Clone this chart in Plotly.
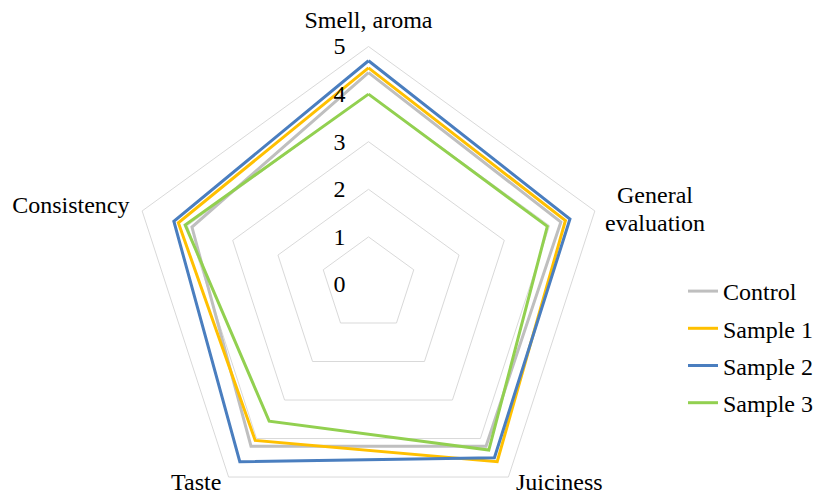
import plotly.graph_objects as go

categories = ["Smell, aroma", "General evaluation", "Juiciness", "Taste", "Consistency"]
axis_labels = ["Smell, aroma", "", "", "", "Consistency"]
side_labels = ["General", "evaluation", "Taste", "Juiciness"]
series_names = ["Control", "Sample 1", "Sample 2", "Sample 3"]
control = [4.45, 4.25, 4.2, 4.2, 3.9]
sample1 = [4.55, 4.35, 4.6, 4.05, 4.2]
sample2 = [4.7, 4.45, 4.5, 4.6, 4.3]
sample3 = [4.0, 3.95, 4.3, 3.55, 4.05]
radial_ticks = [0, 1, 2, 3, 4, 5]

series_values = [control, sample1, sample2, sample3]
colors = ["#BFBFBF", "#FFC000", "#4A7EBF", "#92D050"]

FONT = "Liberation Serif, Times New Roman, serif"
TXT = dict(family=FONT, size=24, color="black")

fig = go.Figure()
for name, vals, col in zip(series_names, series_values, colors):
    fig.add_trace(go.Scatterpolar(
        r=vals + vals[:1],
        theta=categories + categories[:1],
        mode="lines",
        name=name,
        legendgroup=name,
        line=dict(color=col, width=3),
    ))

W, H = 850, 515
cx, cy, R = 360.5, 276.5, 238


def label(text, x, y, xanchor):
    return dict(text=text, xref="paper", yref="paper", x=x / W, y=(H - y) / H,
                xanchor=xanchor, yanchor="middle", showarrow=False, font=TXT)


fig.update_layout(
    width=W, height=H,
    margin=dict(l=0, r=0, t=0, b=0),
    paper_bgcolor="white",
    plot_bgcolor="white",
    font=TXT,
    polar=dict(
        domain=dict(x=[(cx - R) / W, (cx + R) / W], y=[(H - cy - R) / H, (H - cy + R) / H]),
        gridshape="linear",
        bgcolor="white",
        radialaxis=dict(
            range=[0, 5], tickvals=radial_ticks, ticktext=[str(t) for t in radial_ticks],
            angle=90, tickangle=90, side="counterclockwise",
            showline=False, gridcolor="#D9D9D9", gridwidth=1,
            ticks="outside", ticklen=14, tickcolor="rgba(0,0,0,0)",
            tickfont=TXT,
        ),
        angularaxis=dict(
            direction="clockwise", rotation=90,
            tickmode="array", tickvals=categories, ticktext=axis_labels,
            showgrid=False, showline=True, linecolor="#D9D9D9", linewidth=1,
            ticks="outside", ticklen=8, tickcolor="rgba(0,0,0,0)",
            tickfont=TXT,
        ),
    ),
    legend=dict(
        x=675 / W, y=(H - 339) / H, xanchor="left", yanchor="middle",
        font=TXT, tracegroupgap=3, bgcolor="rgba(0,0,0,0)",
    ),
    showlegend=True,
    annotations=[
        label(side_labels[0], 647, 187, "center"),
        label(side_labels[1], 647, 215, "center"),
        label(side_labels[2], 215, 474, "right"),
        label(side_labels[3], 506, 474, "left"),
    ],
)

fig.write_html("out.html")
